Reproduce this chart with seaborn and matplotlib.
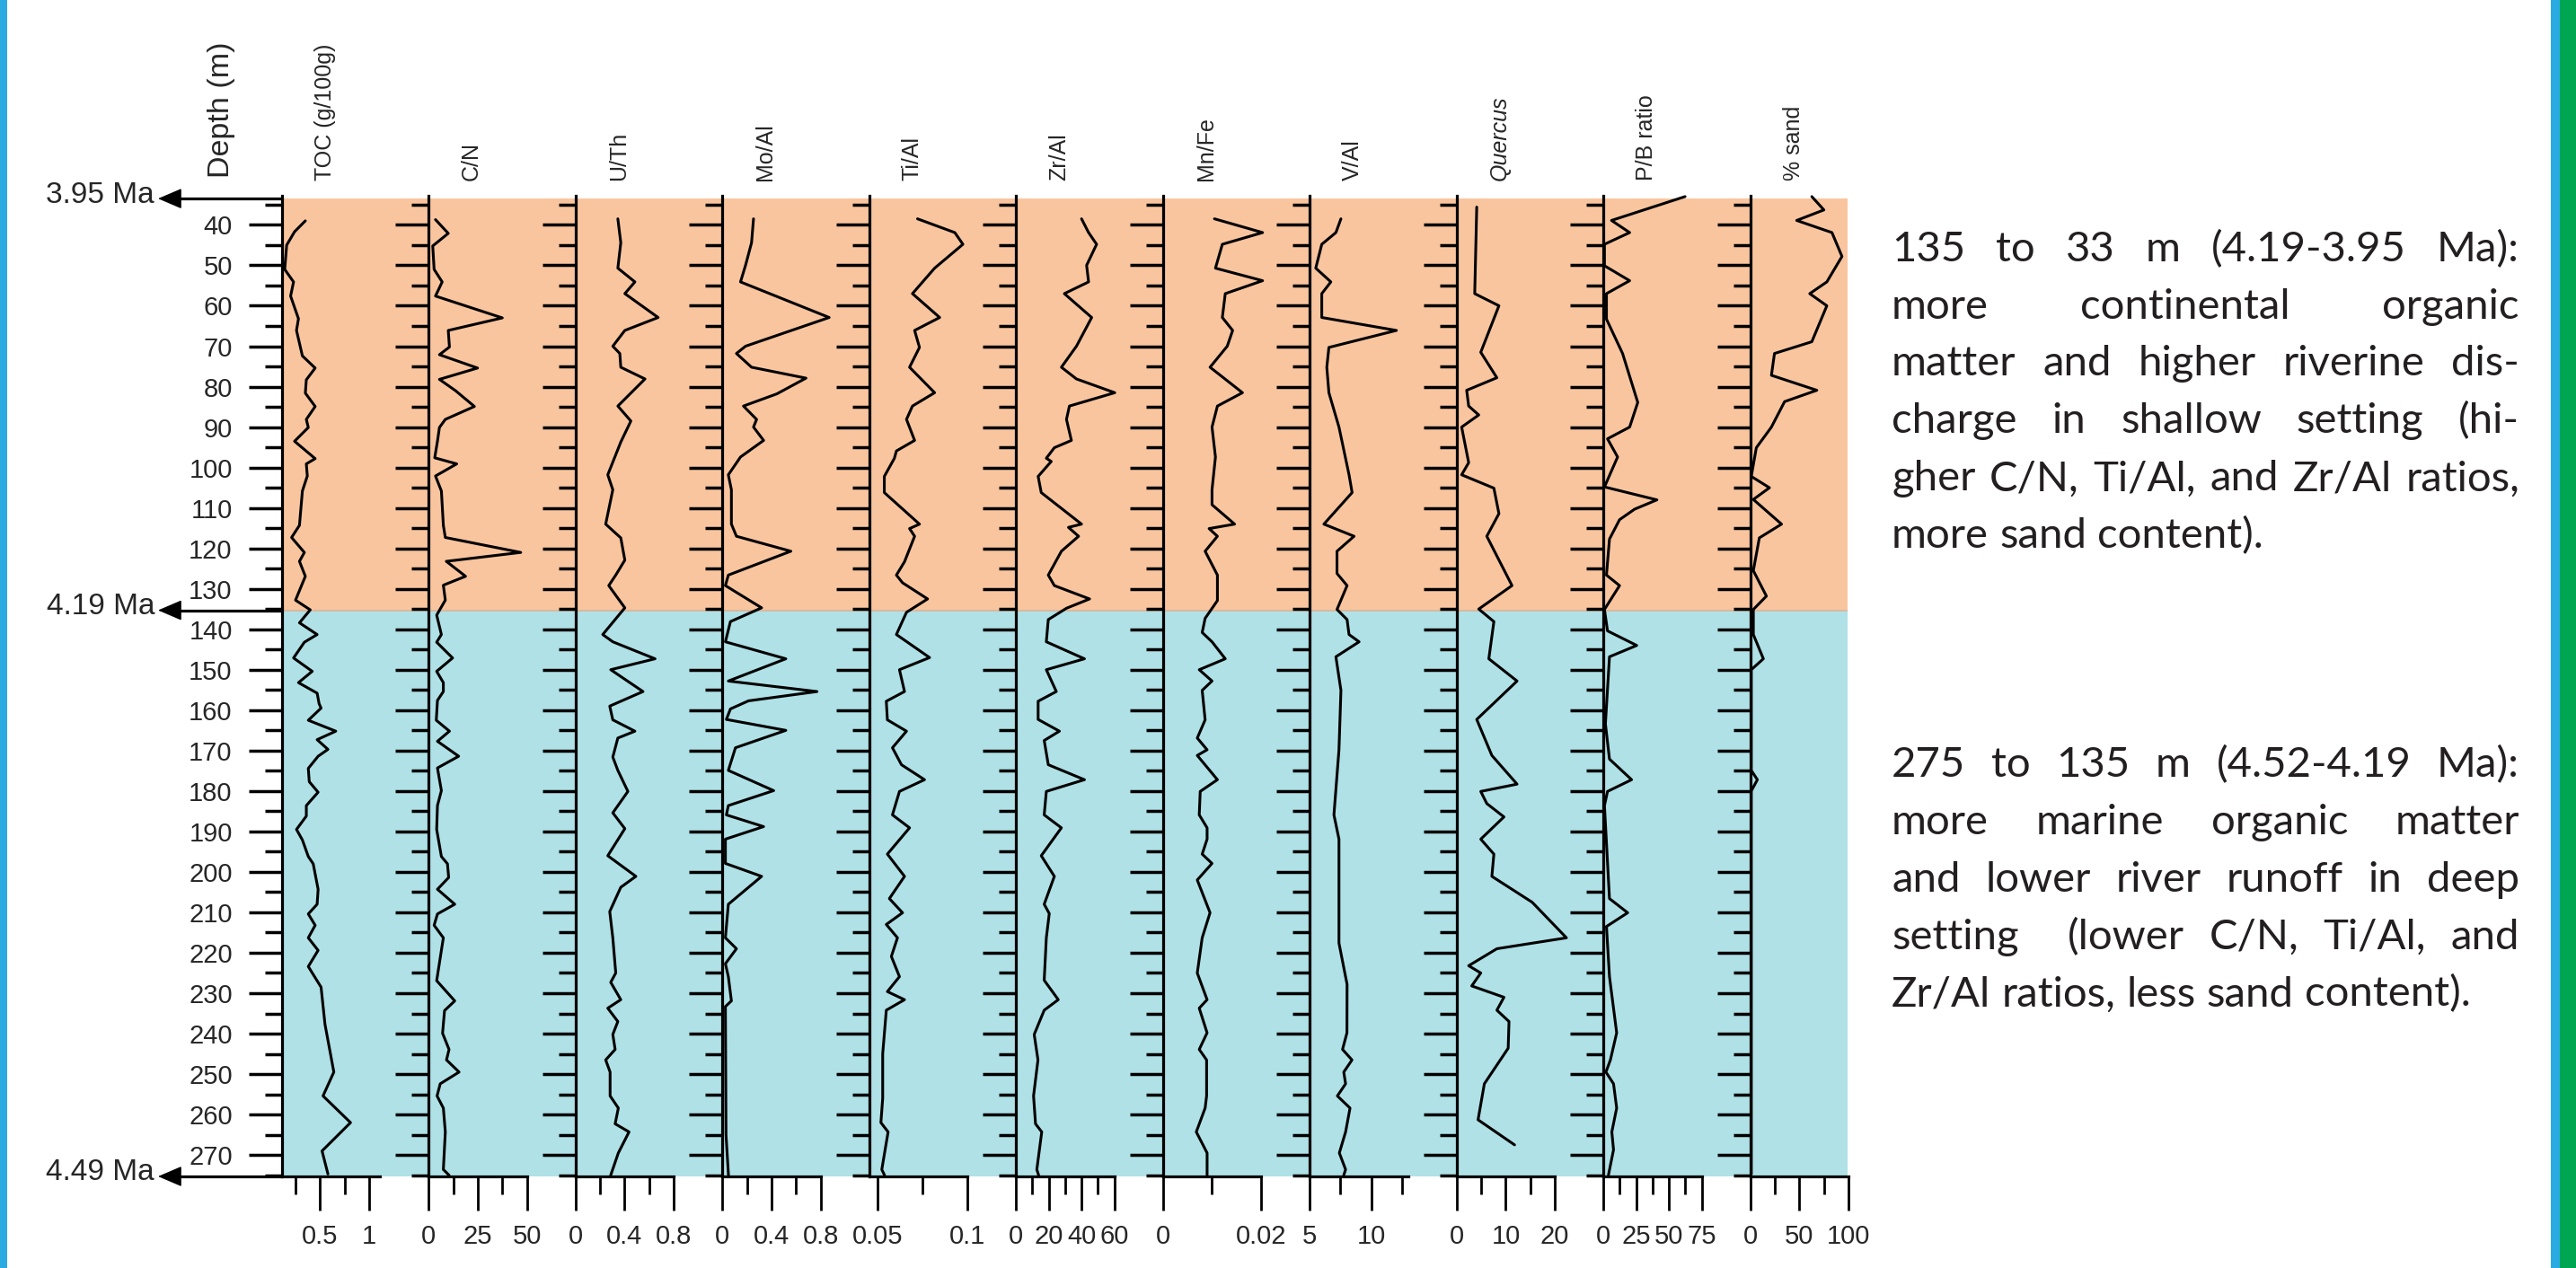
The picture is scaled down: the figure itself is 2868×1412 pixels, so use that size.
import numpy as np
import pandas as pd
import seaborn as sns
import matplotlib.pyplot as plt
from matplotlib.patches import Rectangle
from matplotlib.ticker import FixedLocator, FixedFormatter

# values: depth (m) and proxy value for each track
toc_depth = [39, 41.7, 45, 51, 54.1, 57.6, 63.2, 66.1, 72.4, 75.4, 78.3, 81.6, 84.9, 88.1, 90.1, 93.5,
             97.8, 99.1, 102.1, 105.8, 114.3, 117.3, 121, 123.2, 126.9, 132.8, 135.2, 138.4, 141.3,
             143.2, 147.1, 150.4, 153.2, 155.8, 158.4, 159.5, 162.5, 165.2, 167.3, 169.7, 171.4, 174.4,
             177.7, 180.3, 183.6, 186.2, 189.5, 192.1, 196.2, 198, 204.3, 208, 210.4, 213.2, 216.3,
             219.4, 223.4, 228.5, 237.7, 249.5, 255.4, 262, 269, 274.7]
toc = [0.35, 0.24, 0.16, 0.14, 0.23, 0.20, 0.28, 0.26, 0.32, 0.45, 0.36, 0.35, 0.45, 0.36, 0.38, 0.24,
       0.45, 0.36, 0.37, 0.32, 0.29, 0.21, 0.34, 0.29, 0.35, 0.25, 0.40, 0.29, 0.47,
       0.34, 0.23, 0.42, 0.28, 0.47, 0.49, 0.51, 0.38, 0.66, 0.47, 0.58, 0.48, 0.38,
       0.39, 0.48, 0.36, 0.36, 0.26, 0.32, 0.38, 0.43, 0.48, 0.47, 0.38, 0.45, 0.38,
       0.48, 0.38, 0.51, 0.55, 0.64, 0.53, 0.81, 0.52, 0.58]

cn_depth = [38.7, 42.1, 45.2, 51, 54.1, 57.6, 63, 66.1, 70.2, 72.1, 75.4, 78.2, 81, 84.9, 88.1, 90.1,
            93.5, 97.6, 99.1, 102.1, 105.8, 114.3, 117.3, 121, 123.2, 126.9, 129.1, 132.8, 136.5,
            141.3, 143.2, 147.1, 150.4, 153.2, 155.4, 157.6, 162.5, 165.2, 167.7, 171.4, 174.3,
            179.9, 183.6, 189.5, 196.2, 198, 201.4, 204.3, 208, 210.4, 213.2, 216.3, 219.4, 226.9,
            231.9, 234.3, 239.9, 243.9, 246.5, 249.5, 252.4, 255.4, 258.4, 264.3, 273.6, 275]
cn = [3.5, 10, 2.1, 2.8, 6.9, 3.5, 37.5, 10, 10.6, 5.5, 24.9, 5.5, 13.7, 23.3, 8.5, 5.5,
      4.5, 3.1, 14.3, 3.5, 6.5, 7.5, 8.5, 46.9, 9, 18.8, 7.5, 8.5, 4.1,
      6.5, 4.1, 12.2, 4.1, 7.5, 7.5, 4.5, 3.9, 10.6, 4.5, 15.3, 4.5,
      6.5, 4.5, 4.1, 6.5, 9.6, 10.2, 4.5, 13.3, 4.5, 2.8, 7.5, 6.5, 4.1,
      13.3, 8.1, 7.1, 10.4, 9.1, 15.5, 5.9, 4.3, 7.5, 8.5, 7.5, 10.4]

uth_depth = [38.5, 44.4, 50.7, 54.1, 57, 62.9, 66.1, 70, 71.8, 75.2, 78.1, 84.8, 88.5, 93.7, 101.8,
             105.5, 114, 117.4, 122.9, 126.6, 129.2, 134.7, 141.3, 143.1, 147.3, 150, 155.4, 159,
             162.4, 165.2, 166.9, 171.6, 174.9, 180.1, 185.4, 189.3, 196, 201.1, 203.8, 209.8,
             216.3, 225, 227.3, 231.6, 233.7, 237, 240.2, 243.9, 246.5, 249.5, 255.4, 258.4,
             262.3, 264.3, 269.5, 275]
uth = [0.345, 0.369, 0.345, 0.484, 0.402, 0.673, 0.402, 0.304, 0.361, 0.369, 0.566, 0.345, 0.451,
       0.369, 0.263, 0.304, 0.246, 0.369, 0.402, 0.328, 0.271, 0.402, 0.222, 0.304, 0.648, 0.287,
       0.55, 0.279, 0.304, 0.484, 0.345, 0.304, 0.345, 0.427, 0.304, 0.402, 0.263, 0.492, 0.369,
       0.279, 0.304, 0.328, 0.287, 0.369, 0.263, 0.345, 0.304, 0.323, 0.246, 0.282, 0.282, 0.349,
       0.323, 0.436, 0.349, 0.287]

mo_depth = [38.5, 44.4, 50, 54.1, 62.9, 70, 71.8, 75.2, 77.9, 81.8, 84.8, 88.1, 90, 93.3, 97.4,
            101.8, 105.5, 114, 117, 120.7, 126.6, 129.2, 134.7, 138.1, 143.1, 147.3, 152.8, 155.4,
            157.7, 159.7, 162.3, 165, 169.3, 174.9, 179.9, 183.6, 185.9, 188.8, 191.9, 197.9,
            201.1, 208, 216.3, 219, 222.7, 225.9, 231.9, 233.3, 265, 275]
mo = [0.254, 0.238, 0.189, 0.148, 0.87, 0.189, 0.115, 0.238, 0.681, 0.443, 0.172, 0.279, 0.254,
      0.336, 0.148, 0.049, 0.074, 0.074, 0.115, 0.558, 0.049, 0.025, 0.32, 0.066, 0.025, 0.517,
      0.049, 0.771, 0.213, 0.066, 0.033, 0.517, 0.107, 0.049, 0.418, 0.049, 0.033, 0.336, 0.025,
      0.025, 0.32, 0.049, 0.025, 0.115, 0.025, 0.049, 0.074, 0.025, 0.03, 0.05]

ti_depth = [38.5, 41.9, 44.8, 50.7, 57, 62.9, 66.1, 70.3, 75.2, 81.5, 84.8, 88.1, 93.3, 95.9, 97.7,
            102.2, 106.2, 114, 115.1, 117, 123.3, 126.6, 128.5, 132.5, 135.8, 141.3, 147, 150,
            155.4, 157.8, 162.4, 165.2, 169.3, 173.5, 177.2, 180.1, 185.9, 189.1, 195.6, 201.1,
            206.6, 210.1, 213, 216.3, 220.9, 225.9, 229.6, 231.6, 234.2, 245, 256, 262, 264.3,
            273.6, 275]
ti = [0.0723, 0.093, 0.0975, 0.0818, 0.0695, 0.0846, 0.0707, 0.0734, 0.0679, 0.0818, 0.0695,
      0.0662, 0.0707, 0.0606, 0.0595, 0.0539, 0.0539, 0.0734, 0.0679, 0.0707, 0.0651, 0.0606,
      0.064, 0.0779, 0.0662, 0.0606, 0.079, 0.0623, 0.0651, 0.055, 0.0556, 0.0662, 0.0584,
      0.0634, 0.0762, 0.0623, 0.0584, 0.0679, 0.0556, 0.0651, 0.0567, 0.064, 0.055, 0.0612,
      0.0578, 0.0623, 0.0556, 0.0651, 0.055, 0.053, 0.053, 0.052, 0.056, 0.0525, 0.054]

zr_depth = [38.5, 41.9, 44.8, 50, 54.1, 57, 62.9, 70, 75.2, 78.1, 81.5, 84.8, 88.1, 93.3, 95.1,
            97.7, 98.5, 102.2, 106.2, 114, 114.8, 117, 120.7, 126.6, 129.2, 132.5, 134.8, 137.6,
            143.1, 147.3, 150, 155.4, 157.8, 162.3, 165.2, 167.5, 173.5, 177.2, 180.1, 185.9,
            189.1, 196, 201.1, 208, 210.3, 216.3, 226.8, 231.6, 234.2, 240.2, 246.5, 255.4,
            262.3, 264.3, 273.6, 275]
zr = [40, 44.3, 49.2, 43.1, 44.3, 29.5, 46.2, 36.9, 27.7, 36.9, 60.3, 32.6, 30.8, 33.8, 23.4,
      18.5, 21.5, 13.5, 15.4, 40, 32, 38.2, 27.7, 19.7, 23.4, 44.9, 30.8, 19.7,
      18.5, 41.8, 18.5, 24.6, 13.5, 13.5, 26.5, 17.2, 19.7, 41.8, 18.5, 17.2,
      27.7, 15.4, 23.4, 17.2, 20.3, 18.5, 17.2, 25.8, 17.2, 11.1, 13.4, 10.7,
      11.9, 15.7, 12.7, 13.8]

mn_depth = [38.5, 41.9, 44.8, 50.7, 53.8, 57, 62.9, 66.1, 70, 75.2, 81.5, 84.8, 90, 97.4, 105.5,
            109.2, 114, 115.1, 117, 120.7, 126.6, 132.9, 137.3, 140.8, 143.1, 147.3, 150, 152.8,
            155.1, 162.4, 166.9, 169.8, 171.2, 177.2, 180.1, 185.9, 189.1, 191.9, 195.6, 197.9,
            202, 210.1, 216.3, 225, 231.6, 233.7, 239.8, 243.9, 246.5, 255.4, 258.4, 264.3,
            269.5, 275]
mn = [0.0105, 0.0203, 0.0121, 0.0107, 0.0203, 0.0127, 0.0121, 0.0142, 0.0131, 0.0096, 0.0162,
      0.0111, 0.01, 0.0107, 0.01, 0.01, 0.0146, 0.0094, 0.0111, 0.0086, 0.0111, 0.0111, 0.0086,
      0.008, 0.01, 0.0127, 0.0074, 0.01, 0.008, 0.0086, 0.007, 0.009, 0.007, 0.0111, 0.0076,
      0.0074, 0.009, 0.009, 0.008, 0.01, 0.007, 0.0096, 0.008, 0.007, 0.009, 0.0074, 0.009,
      0.0074, 0.0089, 0.0089, 0.0086, 0.0068, 0.009, 0.009]

val_depth = [38.5, 41.9, 44.8, 50.7, 54.1, 57, 62.9, 66.1, 70.3, 75.2, 81.5, 90, 101.8, 106.2, 114,
             117, 120.7, 126.2, 129.2, 135.1, 137.6, 141.3, 143.1, 146.8, 155.1, 169.8, 185.9,
             191.9, 217.6, 227.8, 239.8, 243.9, 246.5, 249.5, 252.4, 255.4, 258.4, 264.3, 269.5,
             273.6, 275]
val = [7.54, 7.13, 5.98, 5.49, 6.72, 5.98, 5.98, 12.06, 6.56, 6.39, 6.56, 7.38, 8.2, 8.45, 6.15,
       8.61, 7.22, 7.22, 8.04, 7.22, 8.04, 8.2, 9.02, 7.13, 7.54, 7.38, 6.97,
       7.38, 7.38, 8.04, 8.03, 7.67, 8.44, 7.77, 7.92, 7.25, 8.28, 7.92, 7.41,
       7.92, 7.77]

quercus_depth = [35.6, 57, 60, 71.5, 77.8, 80.9, 84.8, 87, 90, 98.8, 101.8, 105.1, 111.4, 117,
                 129.2, 135, 138.1, 147.3, 152.8, 162.3, 171.2, 178.3, 180.1, 183.1, 186.4, 191.9,
                 195.6, 201.1, 207.5, 216.3, 219, 223.2, 225, 228.2, 231, 234.2, 237, 243.6,
                 252.4, 261.3, 267.5]
quercus = [4.1, 3.69, 8.62, 4.92, 8.2, 2.05, 2.46, 4.51, 1.03, 2.46, 1.03, 7.59, 8.62, 6.15,
           11.28, 4.51, 7.59, 6.56, 12.31, 4.1, 7.18, 12.31, 4.92, 6.15, 9.64, 4.92,
           7.59, 7.18, 15.38, 22.36, 8.2, 2.46, 4.92, 3.08, 9.64, 8.2, 10.67, 10.5,
           5.65, 4.37, 11.8]

pb_depth = [33, 38.9, 41.9, 44.8, 50.1, 53.8, 57, 63.3, 71.8, 83.9, 90, 92.9, 97.4, 104.8, 108,
            110.3, 112.9, 117.7, 126.6, 129.2, 135.1, 140.4, 144, 146.8, 163.4, 172.1, 177.2,
            180.1, 183.6, 206.6, 210.1, 213.5, 225.9, 239.8, 246.5, 249.5, 252.4, 258.4, 264.3,
            268.7, 275]
pb = [62.3, 6.15, 20, 0.77, 0.77, 20, 2.3, 2.3, 14.6, 26.2, 20, 3.1, 10.8, 0.77, 40.8,
      23.8, 12.3, 4.6, 2.3, 12.3, 0.77, 3.1, 25.4, 4.6, 1.5, 4.6, 21.5,
      3.1, 0.77, 4.6, 18.5, 2.3, 4.6, 10.1, 5.3, 1.9, 7.7, 10.1, 6.4,
      7.7, 3.8]

sand_depth = [33, 36.3, 38.9, 41.9, 47.8, 54.1, 57, 60, 68.9, 71.8, 77.2, 80.9, 83.7, 90, 95.1,
              102.2, 105, 107.9, 114, 117.4, 125.5, 131.8, 135.1, 141.3, 147.3, 150, 174.9, 177.2,
              180, 274.7]
sand = [62.6, 74.9, 47.2, 83.1, 93.3, 77.9, 60.5, 77.9, 62.6, 24.6, 21.5, 67.7, 34.9, 21.5, 6.15,
        1, 19.5, 3.1, 31.8, 9.2, 3.1, 16.4, 3.1, 3.1, 13.3, 1, 1, 7.2,
        1, 1]

proxy_names = ['TOC (g/100g)', 'C/N', 'U/Th', 'Mo/Al', 'Ti/Al', 'Zr/Al', 'Mn/Fe', 'V/Al',
               'Quercus', 'P/B ratio', '% sand']
x_ranges = [(0.11, 1.11), (0, 50), (0, 0.8), (0, 0.8), (0.0455, 0.1), (0, 60), (0, 0.02),
            (5, 13), (0, 20), (0, 75), (0, 100)]
major_ticks = [[0.5, 1], [0, 25, 50], [0, 0.4, 0.8], [0, 0.4, 0.8], [0.05, 0.1], [0, 20, 40, 60],
               [0, 0.02], [5, 10], [0, 10, 20], [0, 25, 50, 75], [0, 50, 100]]
major_labels = [['0.5', '1'], ['0', '25', '50'], ['0', '0.4', '0.8'], ['0', '0.4', '0.8'],
                ['0.05', '0.1'], ['0', '20', '40', '60'], ['0', '0.02'], ['5', '10'],
                ['0', '10', '20'], ['0', '25', '50', '75'], ['0', '50', '100']]
minor_ticks = [[0.25, 0.75], [12.5, 37.5], [0.2, 0.6], [0.2, 0.6], [0.075], [10, 30, 50],
               [0.01], [7.5, 12.5], [5, 15], [12.5, 37.5, 62.5], [25, 75]]
depth_series = [toc_depth, cn_depth, uth_depth, mo_depth, ti_depth, zr_depth, mn_depth,
                val_depth, quercus_depth, pb_depth, sand_depth]
value_series = [toc, cn, uth, mo, ti, zr, mn, val, quercus, pb, sand]

age_marks = [('3.95 Ma', 33.5), ('4.19 Ma', 135.3), ('4.49 Ma', 275.3)]

para_upper = ['135 to 33 m (4.19-3.95 Ma):', 'more continental organic',
              'matter and higher riverine dis-', 'charge in shallow setting (hi-',
              'gher C/N, Ti/Al, and Zr/Al ratios,', 'more sand content).']
para_lower = ['275 to 135 m (4.52-4.19 Ma):', 'more marine organic matter',
              'and lower river runoff in deep', 'setting  (lower C/N, Ti/Al, and',
              'Zr/Al ratios, less sand content).']

sns.set_style('ticks')
plt.rcParams['font.family'] = ['Liberation Sans', 'DejaVu Sans']

W, H = 2868, 1412
fig = plt.figure(figsize=(W / 100, H / 100), dpi=100)


def fx(px):
    return px / W


def fy(py):
    return 1 - py / H


TOP, BOT = 218, 1310
D_TOP, D_BOT = 32.8, 275.3
SPINE0, STEP, PW = 313.7, 163.5, 109.4


def ypx(d):
    return TOP + (d - D_TOP) / (D_BOT - D_TOP) * (BOT - TOP)


# coloured background behind all tracks
bg = fig.add_axes([fx(SPINE0), fy(BOT), fx(2057 - SPINE0), (BOT - TOP) / H])
bg.set_xlim(0, 1)
bg.set_ylim(D_BOT, D_TOP)
bg.axhspan(33.5, 135.3, color='#f9c59f', lw=0)
bg.axhspan(135.3, D_BOT, color='#afe1e6', lw=0)
bg.axhline(135.3, color='#d9b49a', lw=1.2)
bg.axis('off')

axes = []
for i in range(len(proxy_names)):
    left = SPINE0 + i * STEP
    ax = fig.add_axes([fx(left), fy(BOT), fx(PW), (BOT - TOP) / H])
    ax.patch.set_alpha(0)
    df = pd.DataFrame({'depth': depth_series[i], 'value': value_series[i]})
    sns.lineplot(data=df, x='value', y='depth', orient='y', sort=False, estimator=None,
                 color='black', lw=2.2, ax=ax)
    for ln in ax.lines:
        ln.set_clip_on(False)
    ax.set_xlim(*x_ranges[i])
    ax.set_ylim(D_BOT, D_TOP)
    ax.set_xlabel('')
    ax.set_ylabel('')
    for s in ['top', 'right']:
        ax.spines[s].set_visible(False)
    for s in ['left', 'bottom']:
        ax.spines[s].set_linewidth(2.3)
        ax.spines[s].set_color('black')

    ax.yaxis.set_major_locator(FixedLocator(list(range(40, 271, 10))))
    ax.yaxis.set_minor_locator(FixedLocator(list(range(35, 276, 10))))
    ax.tick_params(axis='y', which='major', left=True, length=26.6, width=2.5, direction='out',
                   pad=13, labelsize=21, color='black')
    ax.tick_params(axis='y', which='minor', left=True, length=13.7, width=2.5, direction='out',
                   color='black')
    if i > 0:
        ax.tick_params(axis='y', labelleft=False)

    ax.xaxis.set_major_locator(FixedLocator(major_ticks[i]))
    ax.xaxis.set_major_formatter(FixedFormatter(major_labels[i]))
    ax.xaxis.set_minor_locator(FixedLocator(minor_ticks[i]))
    ax.tick_params(axis='x', which='major', bottom=True, length=27.4, width=2.0, direction='out',
                   pad=10.5, labelsize=21, color='black')
    ax.tick_params(axis='x', which='minor', bottom=True, length=14.4, width=2.0, direction='out',
                   color='black')
    axes.append(ax)

    fig.text(fx(left + 48), fy(201), proxy_names[i], rotation=90, ha='center', va='bottom',
             fontsize=18, style='italic' if proxy_names[i] == 'Quercus' else 'normal')

fig.text(fx(247), fy(198), 'Depth (m)', rotation=90, ha='center', va='bottom', fontsize=24.5)

# age arrows at the left of the first track
for label, d in age_marks:
    y = fy(ypx(d))
    fig.add_artist(plt.Line2D([fx(195), fx(SPINE0)], [y, y], color='black', lw=2.3))
    axes[0].annotate('', xy=(fx(176), y), xycoords='figure fraction',
                     xytext=(fx(200), y), textcoords='figure fraction',
                     arrowprops=dict(arrowstyle='-|>,head_length=0.42,head_width=0.18',
                                     mutation_scale=40, lw=1, color='black',
                                     shrinkA=0, shrinkB=0),
                     annotation_clip=False)
    fig.text(fx(172), fy(ypx(d) - 4), label, ha='right', va='center', fontsize=24)

# justified paragraphs on the right
renderer = fig.canvas.get_renderer()
L, R = 2106, 2805
PFONT = dict(fontsize=34, family=['Lato', 'DejaVu Sans'], color='#231f20', va='baseline')
probe1 = fig.text(0, 0, 'n n', **PFONT)
probe2 = fig.text(0, 0, 'nn', **PFONT)
space_px = (probe1.get_window_extent(renderer).width - probe2.get_window_extent(renderer).width)
probe1.remove()
probe2.remove()


def put_line(line, base_px, justify):
    words, gaps, extra = [], [], 0
    for p in line.split(' '):
        if not p:
            extra += 1
            continue
        if words:
            gaps.append(1 + extra)
        words.append(p)
        extra = 0
    texts = [fig.text(0, fy(base_px), w, **PFONT) for w in words]
    widths = [t.get_window_extent(renderer).width for t in texts]
    if justify and gaps:
        unit = (R - L - sum(widths)) / sum(gaps)
    else:
        unit = space_px
    x = L
    for k, t in enumerate(texts):
        t.set_x(fx(x))
        x += widths[k] + (gaps[k] * unit if k < len(gaps) else 0)


for k, line in enumerate(para_upper):
    put_line(line, 290.7 + k * 63.9, k < len(para_upper) - 1)
for k, line in enumerate(para_lower):
    put_line(line, 865 + k * 63.9, k < len(para_lower) - 1)

# coloured page edges
fig.add_artist(Rectangle((0, 0), fx(8), 1, transform=fig.transFigure, color='#29abe2', lw=0))
fig.add_artist(Rectangle((fx(2840), 0), fx(10), 1, transform=fig.transFigure, color='#29abe2', lw=0))
fig.add_artist(Rectangle((fx(2850), 0), fx(18), 1, transform=fig.transFigure, color='#00a651', lw=0))

fig.savefig('out.png', dpi=100)
